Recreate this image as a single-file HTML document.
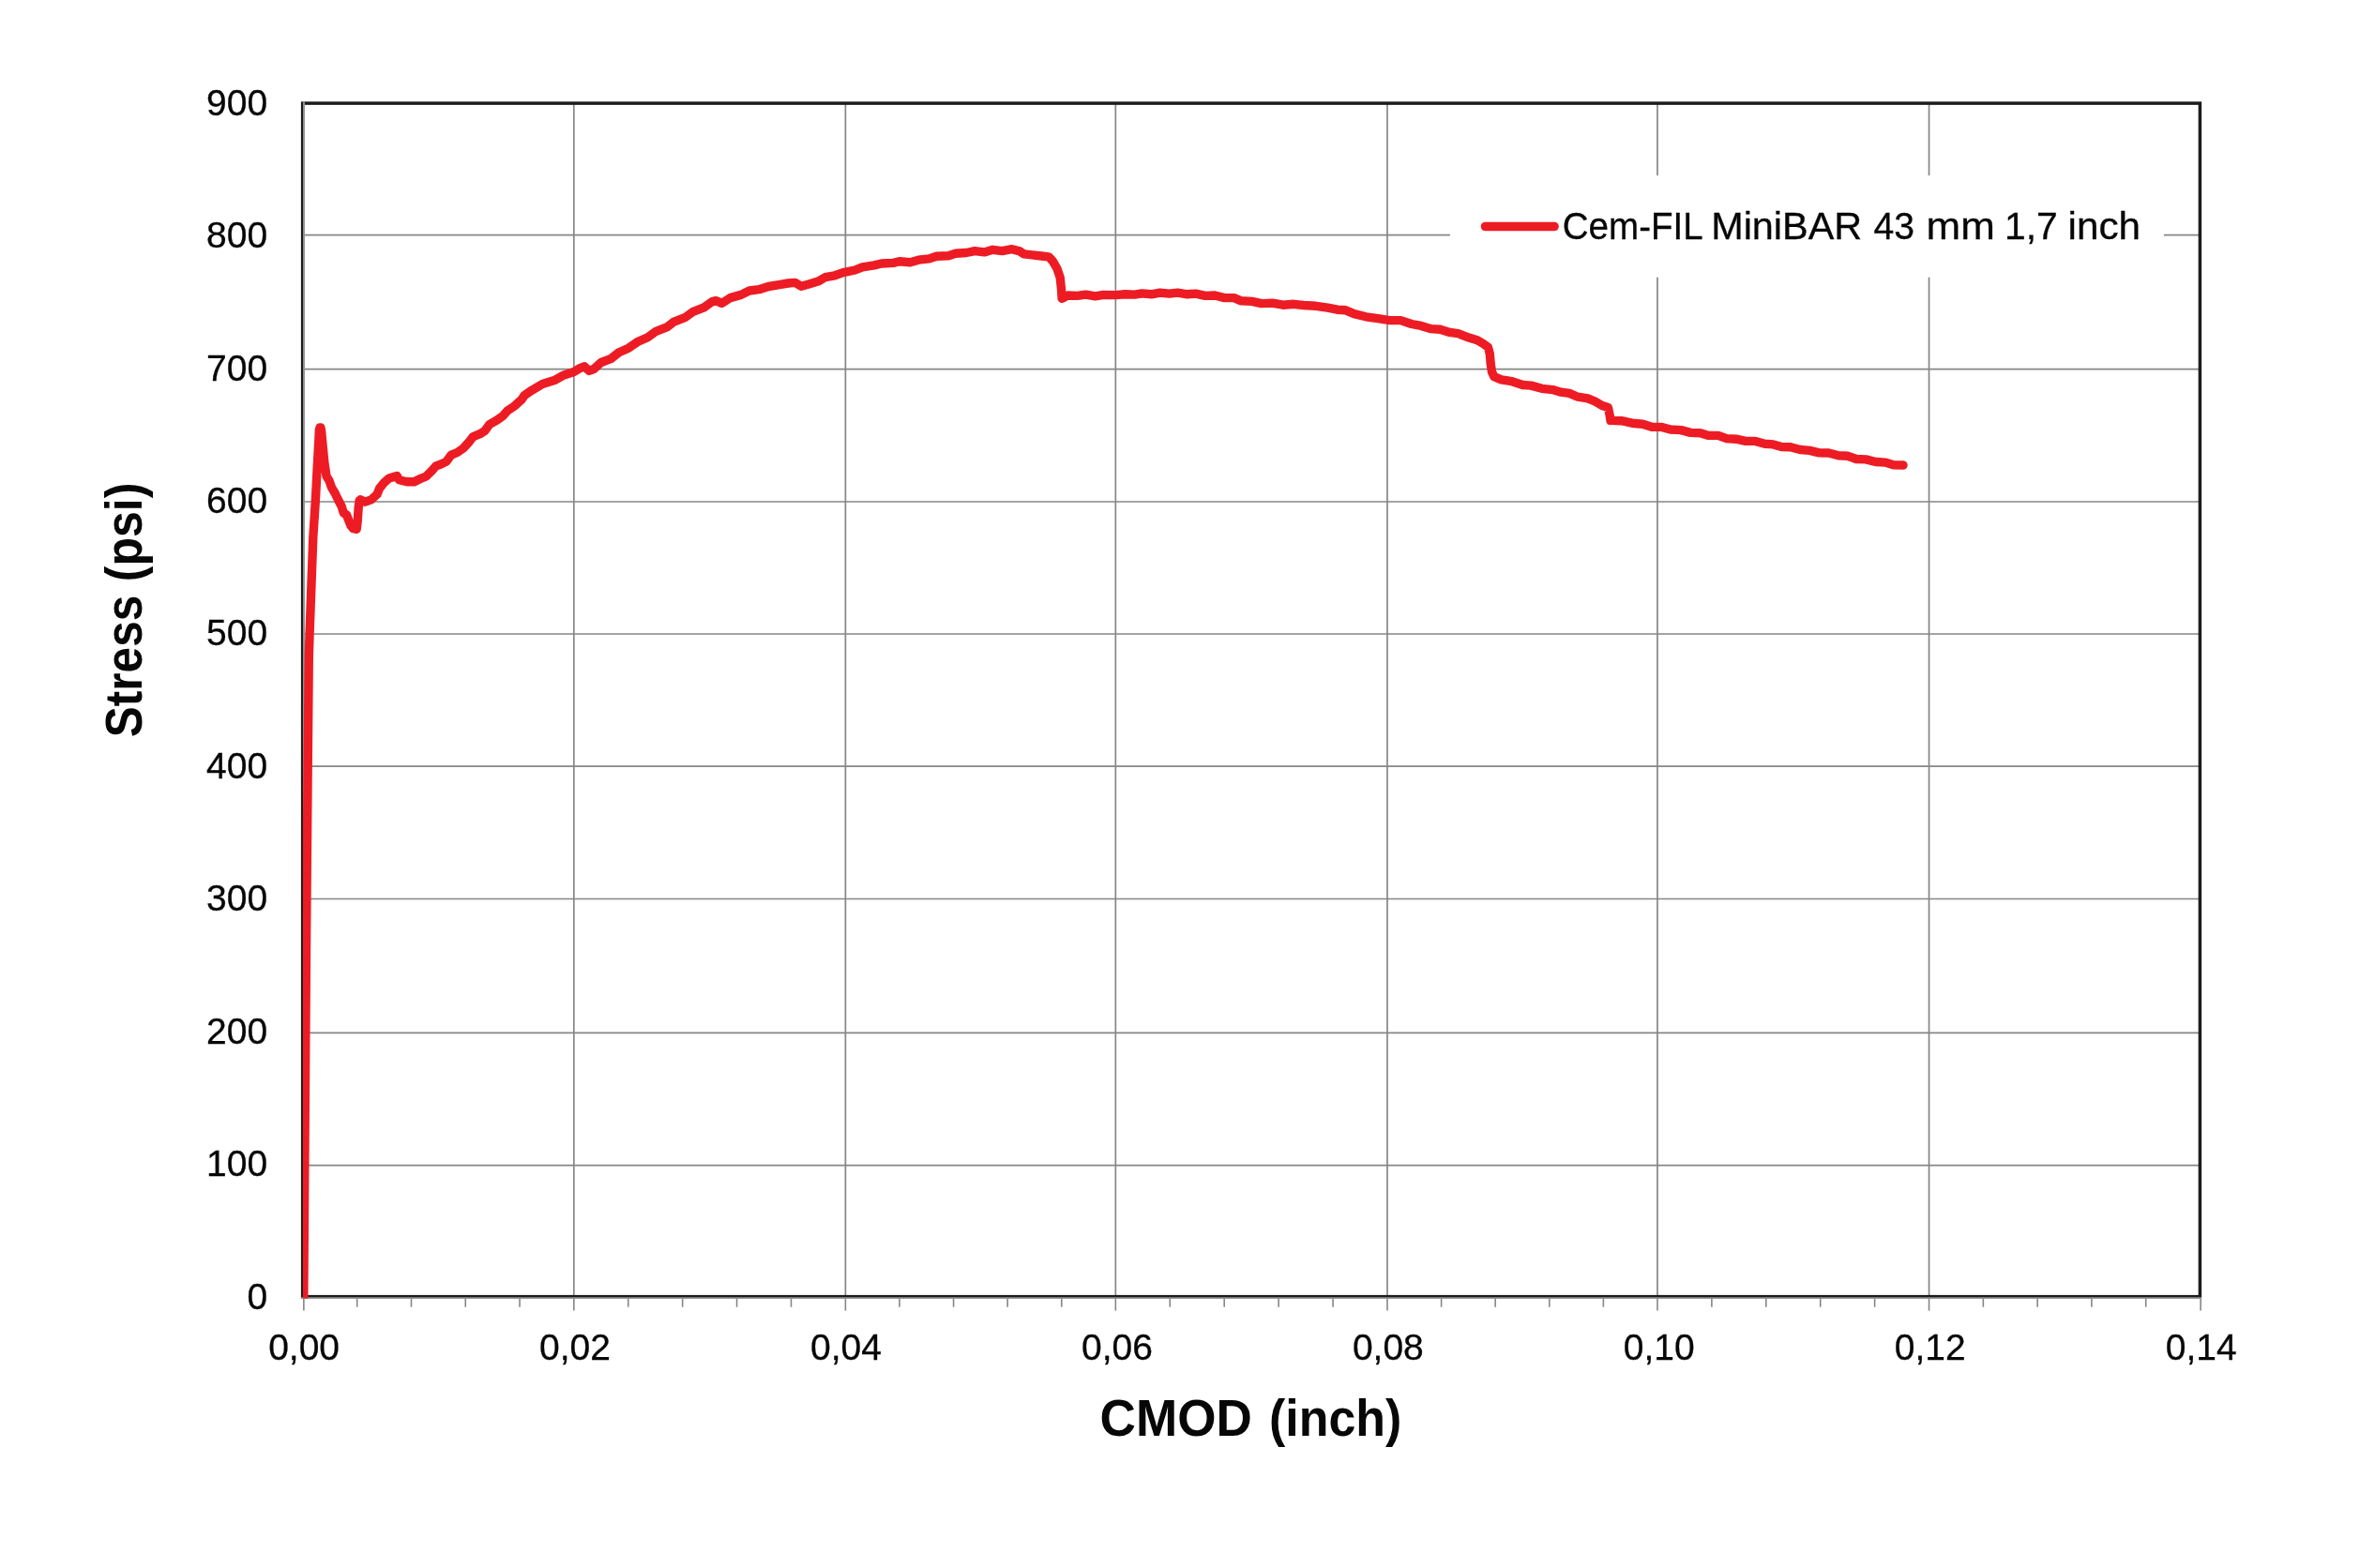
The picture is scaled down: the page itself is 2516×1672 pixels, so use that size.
<!DOCTYPE html>
<html><head><meta charset="utf-8"><title>Stress vs CMOD</title>
<style>html,body{margin:0;padding:0;background:#fff}body{width:2516px;height:1672px;overflow:hidden}svg{display:block;will-change:transform}text{font-family:"Liberation Sans",sans-serif;fill:#070707}.r{stroke:#070707;stroke-width:0.3px}</style>
</head><body>
<svg width="2516" height="1672" viewBox="0 0 2516 1672">
<rect x="0" y="0" width="2516" height="1672" fill="#ffffff"/>
<g stroke="#868686" stroke-width="1.7" fill="none">
<line x1="611.82" y1="110.10" x2="611.82" y2="1382.65"/>
<line x1="901.37" y1="110.10" x2="901.37" y2="1382.65"/>
<line x1="1189.35" y1="110.10" x2="1189.35" y2="1382.65"/>
<line x1="1478.99" y1="110.10" x2="1478.99" y2="1382.65"/>
<line x1="1766.97" y1="110.10" x2="1766.97" y2="1382.65"/>
<line x1="2056.54" y1="110.10" x2="2056.54" y2="1382.65"/>
<line x1="322.65" y1="1242.56" x2="2345.40" y2="1242.56"/>
<line x1="322.65" y1="1101.40" x2="2345.40" y2="1101.40"/>
<line x1="322.65" y1="958.50" x2="2345.40" y2="958.50"/>
<line x1="322.65" y1="817.20" x2="2345.40" y2="817.20"/>
<line x1="322.65" y1="676.00" x2="2345.40" y2="676.00"/>
<line x1="322.65" y1="535.00" x2="2345.40" y2="535.00"/>
<line x1="322.65" y1="393.60" x2="2345.40" y2="393.60"/>
<line x1="322.65" y1="250.60" x2="2345.40" y2="250.60"/>
</g>
<g stroke="#868686" stroke-width="1.6" fill="none">
<line x1="323.85" y1="1382.65" x2="323.85" y2="1397.60"/>
<line x1="380.68" y1="1382.65" x2="380.68" y2="1393.70"/>
<line x1="438.47" y1="1382.65" x2="438.47" y2="1393.70"/>
<line x1="496.25" y1="1382.65" x2="496.25" y2="1393.70"/>
<line x1="554.04" y1="1382.65" x2="554.04" y2="1393.70"/>
<line x1="611.82" y1="1382.65" x2="611.82" y2="1397.60"/>
<line x1="669.73" y1="1382.65" x2="669.73" y2="1393.70"/>
<line x1="727.64" y1="1382.65" x2="727.64" y2="1393.70"/>
<line x1="785.55" y1="1382.65" x2="785.55" y2="1393.70"/>
<line x1="843.46" y1="1382.65" x2="843.46" y2="1393.70"/>
<line x1="901.37" y1="1382.65" x2="901.37" y2="1397.60"/>
<line x1="958.97" y1="1382.65" x2="958.97" y2="1393.70"/>
<line x1="1016.56" y1="1382.65" x2="1016.56" y2="1393.70"/>
<line x1="1074.16" y1="1382.65" x2="1074.16" y2="1393.70"/>
<line x1="1131.75" y1="1382.65" x2="1131.75" y2="1393.70"/>
<line x1="1189.35" y1="1382.65" x2="1189.35" y2="1397.60"/>
<line x1="1247.28" y1="1382.65" x2="1247.28" y2="1393.70"/>
<line x1="1305.21" y1="1382.65" x2="1305.21" y2="1393.70"/>
<line x1="1363.13" y1="1382.65" x2="1363.13" y2="1393.70"/>
<line x1="1421.06" y1="1382.65" x2="1421.06" y2="1393.70"/>
<line x1="1478.99" y1="1382.65" x2="1478.99" y2="1397.60"/>
<line x1="1536.59" y1="1382.65" x2="1536.59" y2="1393.70"/>
<line x1="1594.18" y1="1382.65" x2="1594.18" y2="1393.70"/>
<line x1="1651.78" y1="1382.65" x2="1651.78" y2="1393.70"/>
<line x1="1709.37" y1="1382.65" x2="1709.37" y2="1393.70"/>
<line x1="1766.97" y1="1382.65" x2="1766.97" y2="1397.60"/>
<line x1="1824.88" y1="1382.65" x2="1824.88" y2="1393.70"/>
<line x1="1882.80" y1="1382.65" x2="1882.80" y2="1393.70"/>
<line x1="1940.71" y1="1382.65" x2="1940.71" y2="1393.70"/>
<line x1="1998.63" y1="1382.65" x2="1998.63" y2="1393.70"/>
<line x1="2056.54" y1="1382.65" x2="2056.54" y2="1397.60"/>
<line x1="2114.33" y1="1382.65" x2="2114.33" y2="1393.70"/>
<line x1="2172.12" y1="1382.65" x2="2172.12" y2="1393.70"/>
<line x1="2229.92" y1="1382.65" x2="2229.92" y2="1393.70"/>
<line x1="2287.71" y1="1382.65" x2="2287.71" y2="1393.70"/>
<line x1="2346.10" y1="1382.65" x2="2346.10" y2="1397.60"/>
</g>
<rect x="1545.9" y="187.1" width="761" height="108.6" fill="#ffffff"/>
<rect x="322.65" y="110.10" width="2022.75" height="1272.55" fill="none" stroke="#1c1c1c" stroke-width="3.5"/>
<line x1="324.0" y1="108.6" x2="324.0" y2="1385.0" stroke="#959595" stroke-width="1.9"/>
<line x1="320.9" y1="1384.1" x2="2347.1" y2="1384.1" stroke="#959595" stroke-width="1.8"/>
<defs><clipPath id="pc"><rect x="322.95" y="100" width="2030" height="1284.6"/></clipPath></defs>
<path clip-path="url(#pc)" d="M323.8 1386.0 L326.6 1000.0 L328.2 817.0 L329.3 700.0 L330.1 675.0 L332.6 606.0 L333.8 573.0 L336.3 534.6 L338.3 496.5 L339.8 470.0 L340.4 458.0 L341.0 456.0 L341.9 456.0 L342.5 458.5 L343.2 466.0 L344.3 477.4 L346.0 494.7 L348.1 508.0 L351.0 512.5 L353.4 519.6 L357.2 526.0 L360.3 532.5 L364.2 540.0 L366.3 547.0 L369.5 549.0 L371.6 554.5 L374.0 560.6 L376.6 563.7 L380.2 564.3 L381.2 556.0 L382.2 541.0 L383.2 533.6 L384.2 532.8 L389.3 535.2 L395.7 532.9 L402.0 527.1 L404.6 520.8 L409.7 514.4 L414.8 509.9 L423.1 507.4 L425.6 511.8 L433.9 513.8 L441.6 513.8 L446.7 511.2 L454.3 508.0 L460.7 501.6 L464.5 497.2 L470.9 494.6 L476.0 492.1 L481.1 485.1 L487.5 482.5 L493.9 478.0 L500.3 471.0 L504.1 465.9 L511.7 462.7 L516.8 459.5 L521.9 452.5 L529.6 448.1 L536.0 443.6 L541.1 437.9 L548.7 432.8 L556.4 425.7 L559.1 421.6 L565.5 417.1 L578.3 409.5 L591.0 405.6 L601.2 399.9 L611.4 396.7 L617.8 392.9 L622.9 390.7 L628.0 395.4 L633.1 393.5 L640.8 386.5 L651.0 382.7 L659.9 375.7 L670.1 371.2 L680.3 364.2 L690.5 359.7 L699.4 353.3 L710.9 348.9 L718.6 343.1 L730.1 338.7 L739.0 332.3 L750.5 327.8 L759.4 321.5 L763.2 320.6 L769.6 323.4 L778.5 317.6 L790.0 314.4 L798.9 310.0 L809.1 308.7 L819.3 305.5 L830.8 303.6 L840.2 302.0 L847.9 301.4 L854.2 305.2 L863.2 302.7 L872.1 300.1 L879.7 295.7 L889.9 293.8 L898.9 290.6 L911.6 288.0 L919.3 284.8 L932.0 282.9 L939.7 281.0 L952.4 280.4 L958.8 278.8 L970.3 279.7 L979.2 277.2 L990.7 275.9 L998.4 273.3 L1011.1 272.7 L1018.8 270.2 L1030.3 269.5 L1039.2 267.6 L1049.4 268.9 L1058.3 266.3 L1068.5 267.6 L1078.7 265.7 L1086.4 267.6 L1091.5 270.8 L1100.4 271.8 L1110.4 273.0 L1118.0 273.8 L1122.6 278.8 L1127.0 286.5 L1130.2 296.0 L1131.6 309.3 L1132.1 318.2 L1138.3 315.0 L1148.5 315.4 L1157.4 314.1 L1167.6 315.9 L1176.5 314.4 L1189.3 314.6 L1199.5 313.8 L1209.7 314.1 L1217.3 312.9 L1227.6 313.8 L1236.5 312.1 L1246.7 313.1 L1255.6 312.1 L1265.8 313.8 L1274.7 313.1 L1284.9 315.4 L1295.2 315.0 L1305.4 317.6 L1315.6 317.6 L1323.2 320.8 L1334.7 321.4 L1344.9 323.6 L1356.4 323.1 L1367.9 325.2 L1379.3 324.3 L1389.5 325.5 L1402.8 326.3 L1415.5 328.2 L1425.7 330.2 L1434.6 330.8 L1443.6 334.6 L1456.3 337.8 L1469.1 339.7 L1481.8 341.6 L1493.3 341.6 L1504.8 345.5 L1515.0 347.4 L1525.2 350.6 L1535.4 351.2 L1545.6 354.4 L1554.5 355.7 L1566.0 360.1 L1574.9 362.7 L1581.3 366.5 L1586.4 370.3 L1588.3 377.3 L1589.2 387.6 L1590.5 396.5 L1592.8 401.6 L1600.5 404.8 L1611.9 406.7 L1623.4 410.5 L1632.3 411.1 L1643.8 414.3 L1655.3 415.6 L1664.2 418.2 L1673.2 419.4 L1682.1 423.2 L1692.8 424.8 L1700.4 428.0 L1708.1 432.5 L1714.4 434.4 L1716.0 442.0 L1717.0 448.4 L1728.5 448.7 L1740.0 451.2 L1751.4 452.2 L1761.6 455.4 L1771.8 455.4 L1780.8 458.0 L1792.2 458.6 L1802.4 461.4 L1812.7 461.8 L1821.6 464.4 L1831.8 464.4 L1840.7 467.6 L1850.9 468.2 L1861.1 470.4 L1871.3 470.4 L1881.5 473.3 L1890.5 473.9 L1899.4 476.5 L1908.9 476.7 L1919.1 479.5 L1929.3 480.4 L1939.5 482.9 L1949.7 483.0 L1959.9 485.8 L1970.2 486.3 L1979.1 489.5 L1989.3 489.9 L1999.5 492.5 L2009.7 493.1 L2018.6 495.7 L2029.0 496.0" fill="none" stroke="#ed1c24" stroke-width="9.4" stroke-linejoin="round" stroke-linecap="round"/>
<line x1="1583.5" y1="241.5" x2="1657" y2="241.5" stroke="#ed1c24" stroke-width="9.6" stroke-linecap="round"/>
<text class="r" x="1665.80" y="254.7" font-size="41.2" textLength="149.85" lengthAdjust="spacingAndGlyphs">Cem-FIL</text>
<text class="r" x="1824.20" y="254.7" font-size="41.2" textLength="160.97" lengthAdjust="spacingAndGlyphs">MiniBAR</text>
<text class="r" x="1997.60" y="254.7" font-size="41.2" textLength="43.55" lengthAdjust="spacingAndGlyphs">43</text>
<text class="r" x="2053.60" y="254.7" font-size="41.2" textLength="73.15" lengthAdjust="spacingAndGlyphs">mm</text>
<text class="r" x="2137.00" y="254.7" font-size="41.2" textLength="56.78" lengthAdjust="spacingAndGlyphs">1,7</text>
<text class="r" x="2204.60" y="254.7" font-size="41.2" textLength="77.52" lengthAdjust="spacingAndGlyphs">inch</text>
<text class="r" x="285.2" y="1395.70" font-size="39" text-anchor="end">0</text>
<text class="r" x="285.2" y="1254.25" font-size="39" text-anchor="end">100</text>
<text class="r" x="285.2" y="1112.80" font-size="39" text-anchor="end">200</text>
<text class="r" x="285.2" y="971.35" font-size="39" text-anchor="end">300</text>
<text class="r" x="285.2" y="829.90" font-size="39" text-anchor="end">400</text>
<text class="r" x="285.2" y="688.45" font-size="39" text-anchor="end">500</text>
<text class="r" x="285.2" y="547.00" font-size="39" text-anchor="end">600</text>
<text class="r" x="285.2" y="405.55" font-size="39" text-anchor="end">700</text>
<text class="r" x="285.2" y="264.10" font-size="39" text-anchor="end">800</text>
<text class="r" x="285.2" y="122.65" font-size="39" text-anchor="end">900</text>
<text class="r" x="324.08" y="1450.3" font-size="39" text-anchor="middle">0,00</text>
<text class="r" x="613.02" y="1450.3" font-size="39" text-anchor="middle">0,02</text>
<text class="r" x="901.96" y="1450.3" font-size="39" text-anchor="middle">0,04</text>
<text class="r" x="1190.90" y="1450.3" font-size="39" text-anchor="middle">0,06</text>
<text class="r" x="1479.84" y="1450.3" font-size="39" text-anchor="middle">0,08</text>
<text class="r" x="1768.78" y="1450.3" font-size="39" text-anchor="middle">0,10</text>
<text class="r" x="2057.72" y="1450.3" font-size="39" text-anchor="middle">0,12</text>
<text class="r" x="2346.66" y="1450.3" font-size="39" text-anchor="middle">0,14</text>
<text x="1172.60" y="1531.3" font-size="55" font-weight="bold" textLength="162.29" lengthAdjust="spacingAndGlyphs">CMOD</text>
<text x="1353.00" y="1531.3" font-size="55" font-weight="bold" textLength="141.33" lengthAdjust="spacingAndGlyphs">(inch)</text>
<g transform="translate(151.0 785.2) rotate(-90)">
<text x="-1.00" y="0" font-size="55" font-weight="bold" textLength="151.45" lengthAdjust="spacingAndGlyphs">Stress</text>
<text x="165.00" y="0" font-size="55" font-weight="bold" textLength="105.59" lengthAdjust="spacingAndGlyphs">(psi)</text>
</g>
</svg>
</body></html>
